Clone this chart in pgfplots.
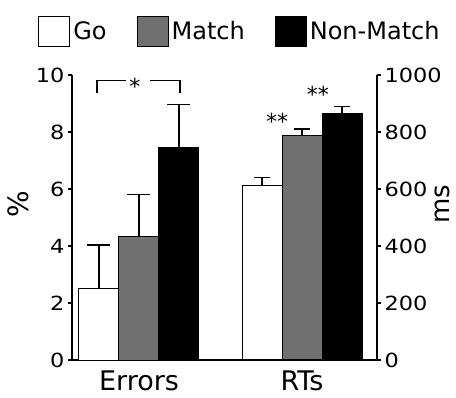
\documentclass[border=0pt]{standalone}
\usepackage{fontspec}
\setmainfont{DejaVu Sans}
\newfontfamily\tickfont[FakeStretch=1.15]{DejaVu Sans}
\usepackage{pgfplots}
\pgfplotsset{compat=1.18}
\definecolor{midgray}{gray}{0.44}
\pgfplotsset{
  common/.style={
    at={(72pt,37pt)}, anchor=south west,
    scale only axis, width=305pt, height=285pt,
    xmin=-0.411, xmax=1.460,
    tick align=outside, major tick length=4pt,
    tick style={line width=1.2pt, black},
    axis line style={line width=1.5pt, -},
    yticklabel style={font=\tickfont\fontsize{19.5}{20}\selectfont},
    /pgf/number format/assume math mode=true,
    /pgf/number format/1000 sep={},
    ybar, bar width=40pt, clip=false,
    error bars/y dir=plus, error bars/y explicit,
    error bars/error bar style={line width=1.5pt, black},
  },
  boxlegend/.style={legend image code/.code={\draw[##1, line width=1pt] (0pt,-14.5pt) rectangle (31pt,15.5pt);}},
}
\begin{document}
\begin{tikzpicture}
\path[use as bounding box] (0pt,0pt) rectangle (456pt,397pt);
\begin{axis}[common,
  ymin=0, ymax=10,
  axis x line*=bottom, axis y line*=left,
  ytick={0,2,...,10}, xtick={0,1}, xticklabels={Errors,RTs},
  x tick style={draw=none},
  xticklabel style={font=\fontsize{27}{28}\selectfont, yshift=-3pt},
  error bars/error mark options={rotate=90, mark size=11.5pt, line width=1.5pt, black},
  legend columns=3,
  legend style={at={(axis description cs:-0.111,1.154)}, anchor=west, draw=none, fill=none,
    inner sep=0pt, font=\fontsize{24}{25}\selectfont,
    nodes={inner sep=3pt},
    /tikz/every even column/.append style={column sep=27pt}},
  legend cell align=left,
]
\addplot[fill=white, draw=black, line width=1pt, bar shift=-40pt, boxlegend] coordinates {(0,2.51) +- (0,1.52)};
\addlegendentry{Go}
\addplot[fill=midgray, draw=black, line width=1pt, bar shift=0pt, boxlegend] coordinates {(0,4.33) +- (0,1.48)};
\addlegendentry{Match}
\addplot[fill=black, draw=black, line width=1pt, bar shift=40pt, boxlegend] coordinates {(0,7.45) +- (0,1.52)};
\addlegendentry{Non-Match}
\draw[line width=1.5pt] (axis cs:-0.258,9.37) -- (axis cs:-0.258,9.80) -- (axis cs:-0.080,9.80);
\draw[line width=1.5pt] (axis cs:0.067,9.80) -- (axis cs:0.252,9.80) -- (axis cs:0.252,9.37);
\node[anchor=base, font=\fontsize{22}{22}\selectfont] at (axis cs:-0.025,9.30) {*};
\node[rotate=90, font=\fontsize{28}{28}\selectfont] at (axis description cs:-0.177,0.547) {\%};
\end{axis}
\begin{axis}[common,
  ymin=0, ymax=1000,
  axis y line*=right, axis x line=none,
  ytick={0,200,...,1000},
  error bars/error mark options={rotate=90, mark size=8pt, line width=1.5pt, black},
]
\addplot[fill=white, draw=black, line width=1pt, bar shift=-40pt] coordinates {(1,614) +- (0,27)};
\addplot[fill=midgray, draw=black, line width=1pt, bar shift=0pt] coordinates {(1,786) +- (0,24)};
\addplot[fill=black, draw=black, line width=1pt, bar shift=40pt] coordinates {(1,866) +- (0,23)};
\node[anchor=base, font=\fontsize{22}{22}\selectfont] at (axis cs:0.847,810) {**};
\node[anchor=base, font=\fontsize{22}{22}\selectfont] at (axis cs:1.098,905) {**};
\node[rotate=90, font=\fontsize{26}{26}\selectfont] at (axis description cs:1.215,0.547) {ms};
\end{axis}
\end{tikzpicture}
\end{document}
